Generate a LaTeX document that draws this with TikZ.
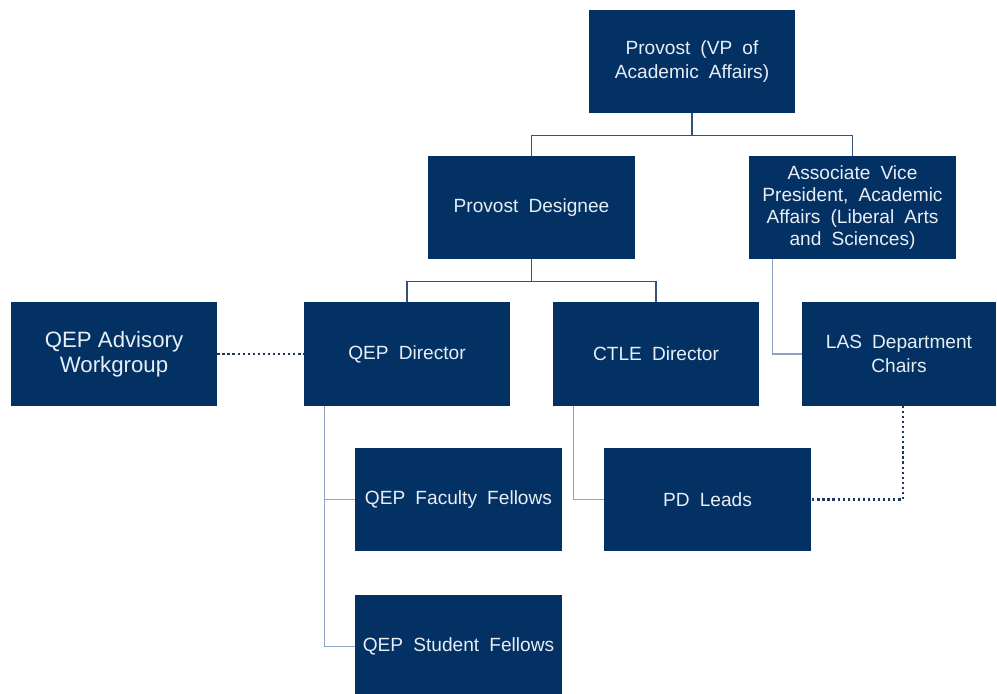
\documentclass[tikz,border=0pt]{standalone}
\usepackage{fontspec}
\setmainfont{Liberation Sans}
\newfontfamily\boxfont[WordSpace=1.9]{Liberation Sans}
\usetikzlibrary{positioning}

\definecolor{boxblue}{RGB}{3,49,99}
\definecolor{boxtext}{RGB}{232,238,246}
\definecolor{linedark}{RGB}{52,82,120}
\definecolor{linelight}{RGB}{140,162,196}
\definecolor{dotblue}{RGB}{30,56,94}

\tikzset{
  orgbox/.style={fill=boxblue, text=boxtext, minimum width=5.15cm, minimum height=2.575cm,
    inner sep=2pt, align=center, font=\boxfont\fontsize{13.6}{16.5}\selectfont},
  tree/.style={draw=linedark, line width=0.9pt},
  side/.style={draw=linelight, line width=1pt},
  dotlink/.style={draw=dotblue, line width=1.6pt, dotted}
}

\begin{document}
\begin{tikzpicture}[x=0.025cm, y=-0.025cm]
\clip (0,0) rectangle (997,693);
\fill[white] (0,0) rectangle (997,693);
% top two levels
\node[orgbox] (provost) at (692,61.5) {Provost (VP of\\Academic Affairs)};
\node[orgbox] (designee) at (531.5,207.5) {Provost Designee};
\node[orgbox, font=\boxfont\fontsize{13.6}{15.6}\selectfont] (avp) at (852.5,207.5)
  {Associate Vice\\President, Academic\\Affairs (Liberal Arts\\and Sciences)};
% third level
\node[orgbox, font=\fontsize{15.8}{17.8}\selectfont] (advisory) at (114,354) {QEP Advisory\\Workgroup};
\node[orgbox] (qepdir) at (407,354) {QEP Director};
\node[orgbox] (ctledir) at (656,354) {CTLE Director};
\node[orgbox, minimum width=4.85cm] (las) at (899,354) {LAS Department\\Chairs};
% lower boxes
\node[orgbox] (facfel) at (458.5,499.5) {QEP Faculty Fellows};
\node[orgbox] (pdleads) at (707.5,499.5) {PD Leads};
\node[orgbox] (stufel) at (458.5,646.5) {QEP Student Fellows};
% hierarchy lines
\draw[tree] (provost.south) -- ++(0,22) -| (designee.north);
\draw[tree] (provost.south) -- ++(0,22) -| (avp.north);
\draw[tree] (designee.south) -- ++(0,22) -| (qepdir.north);
\draw[tree] (designee.south) -- ++(0,22) -| (ctledir.north);
% side links
\draw[side] (avp.south west) ++(23,0) |- (las.west);
\draw[side] (qepdir.south west) ++(21,0) |- (facfel.west);
\draw[side] (qepdir.south west) ++(21,0) |- (stufel.west);
\draw[side] (ctledir.south west) ++(21,0) |- (pdleads.west);
% dotted links
\draw[dotlink] (advisory.east) -- (qepdir.west);
\draw[dotlink] (las.south) ++(4,0) |- (pdleads.east);
\end{tikzpicture}
\end{document}
